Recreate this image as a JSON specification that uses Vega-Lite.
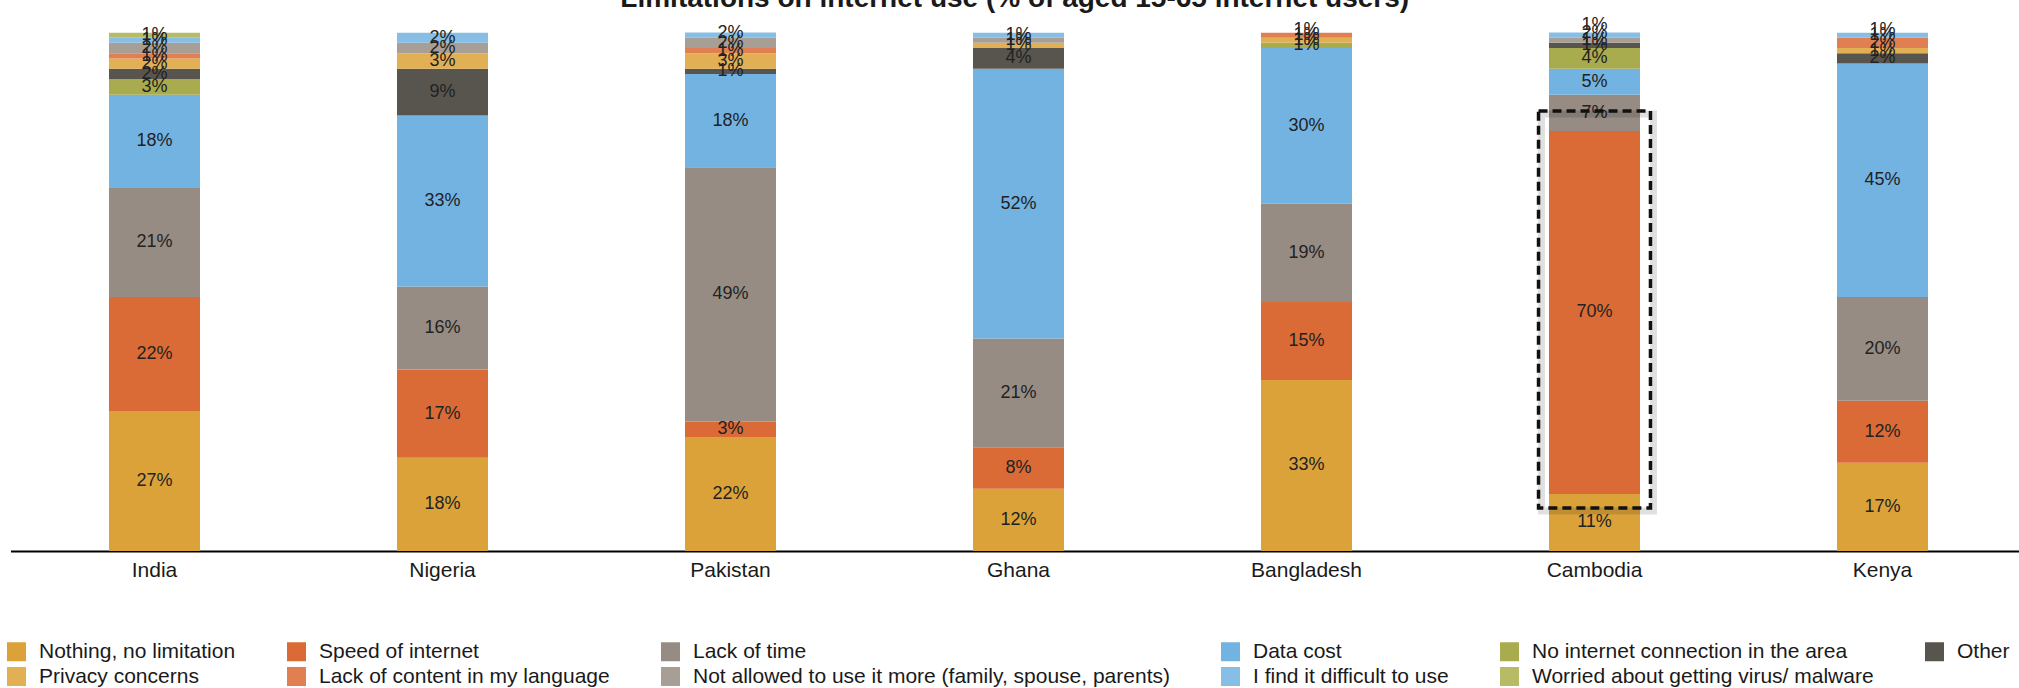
{
  "$schema": "https://vega.github.io/schema/vega-lite/v6.json",
  "autosize": {"type": "none"},
  "width": 2008.5,
  "height": 518.5,
  "padding": {"left": 10.5, "top": 32.5, "right": 0, "bottom": 137},
  "title": {
    "text": "Limitations on internet use (% of aged 15-65 internet users)",
    "font": "Liberation Sans",
    "fontSize": 28,
    "fontWeight": "bold",
    "color": "#1a1a1a",
    "anchor": "middle",
    "frame": "group",
    "baseline": "alphabetic",
    "offset": -19
  },
  "config": {
    "font": "Liberation Sans",
    "view": {"stroke": null}
  },
  "datasets": {
    "limitations": [
      {"limitation": "Nothing, no limitation", "rank": 1},
      {"limitation": "Speed of internet", "rank": 2},
      {"limitation": "Lack of time", "rank": 3},
      {"limitation": "Data cost", "rank": 4},
      {"limitation": "No internet connection in the area", "rank": 5},
      {"limitation": "Other", "rank": 6},
      {"limitation": "Privacy concerns", "rank": 7},
      {"limitation": "Lack of content in my language", "rank": 8},
      {"limitation": "Not allowed to use it more (family, spouse, parents)", "rank": 9},
      {"limitation": "I find it difficult to use", "rank": 10},
      {"limitation": "Worried about getting virus/ malware", "rank": 11}
    ],
    "survey": [
      {"country": "India", "limitation": "Nothing, no limitation", "share": 0.27},
      {"country": "India", "limitation": "Speed of internet", "share": 0.22},
      {"country": "India", "limitation": "Lack of time", "share": 0.21},
      {"country": "India", "limitation": "Data cost", "share": 0.18},
      {"country": "India", "limitation": "No internet connection in the area", "share": 0.03},
      {"country": "India", "limitation": "Other", "share": 0.02},
      {"country": "India", "limitation": "Privacy concerns", "share": 0.02},
      {"country": "India", "limitation": "Lack of content in my language", "share": 0.01},
      {"country": "India", "limitation": "Not allowed to use it more (family, spouse, parents)", "share": 0.02},
      {"country": "India", "limitation": "I find it difficult to use", "share": 0.01},
      {"country": "India", "limitation": "Worried about getting virus/ malware", "share": 0.01},

      {"country": "Nigeria", "limitation": "Nothing, no limitation", "share": 0.18},
      {"country": "Nigeria", "limitation": "Speed of internet", "share": 0.17},
      {"country": "Nigeria", "limitation": "Lack of time", "share": 0.16},
      {"country": "Nigeria", "limitation": "Data cost", "share": 0.33},
      {"country": "Nigeria", "limitation": "Other", "share": 0.09},
      {"country": "Nigeria", "limitation": "Privacy concerns", "share": 0.03},
      {"country": "Nigeria", "limitation": "Not allowed to use it more (family, spouse, parents)", "share": 0.02},
      {"country": "Nigeria", "limitation": "I find it difficult to use", "share": 0.02},

      {"country": "Pakistan", "limitation": "Nothing, no limitation", "share": 0.22},
      {"country": "Pakistan", "limitation": "Speed of internet", "share": 0.03},
      {"country": "Pakistan", "limitation": "Lack of time", "share": 0.49},
      {"country": "Pakistan", "limitation": "Data cost", "share": 0.18},
      {"country": "Pakistan", "limitation": "Other", "share": 0.01},
      {"country": "Pakistan", "limitation": "Privacy concerns", "share": 0.03},
      {"country": "Pakistan", "limitation": "Lack of content in my language", "share": 0.01},
      {"country": "Pakistan", "limitation": "Not allowed to use it more (family, spouse, parents)", "share": 0.02},
      {"country": "Pakistan", "limitation": "I find it difficult to use", "share": 0.02},

      {"country": "Ghana", "limitation": "Nothing, no limitation", "share": 0.12},
      {"country": "Ghana", "limitation": "Speed of internet", "share": 0.08},
      {"country": "Ghana", "limitation": "Lack of time", "share": 0.21},
      {"country": "Ghana", "limitation": "Data cost", "share": 0.52},
      {"country": "Ghana", "limitation": "Other", "share": 0.04},
      {"country": "Ghana", "limitation": "Privacy concerns", "share": 0.01},
      {"country": "Ghana", "limitation": "Not allowed to use it more (family, spouse, parents)", "share": 0.01},
      {"country": "Ghana", "limitation": "I find it difficult to use", "share": 0.01},

      {"country": "Bangladesh", "limitation": "Nothing, no limitation", "share": 0.33},
      {"country": "Bangladesh", "limitation": "Speed of internet", "share": 0.15},
      {"country": "Bangladesh", "limitation": "Lack of time", "share": 0.19},
      {"country": "Bangladesh", "limitation": "Data cost", "share": 0.30},
      {"country": "Bangladesh", "limitation": "No internet connection in the area", "share": 0.01},
      {"country": "Bangladesh", "limitation": "Privacy concerns", "share": 0.01},
      {"country": "Bangladesh", "limitation": "Lack of content in my language", "share": 0.01},
      {"country": "Bangladesh", "limitation": "I find it difficult to use", "share": 0.01},

      {"country": "Cambodia", "limitation": "Nothing, no limitation", "share": 0.11},
      {"country": "Cambodia", "limitation": "Speed of internet", "share": 0.70},
      {"country": "Cambodia", "limitation": "Lack of time", "share": 0.07},
      {"country": "Cambodia", "limitation": "Data cost", "share": 0.05},
      {"country": "Cambodia", "limitation": "No internet connection in the area", "share": 0.04},
      {"country": "Cambodia", "limitation": "Other", "share": 0.01},
      {"country": "Cambodia", "limitation": "Not allowed to use it more (family, spouse, parents)", "share": 0.01},
      {"country": "Cambodia", "limitation": "I find it difficult to use", "share": 0.02},
      {"country": "Cambodia", "limitation": "Worried about getting virus/ malware", "share": 0.01},

      {"country": "Kenya", "limitation": "Nothing, no limitation", "share": 0.17},
      {"country": "Kenya", "limitation": "Speed of internet", "share": 0.12},
      {"country": "Kenya", "limitation": "Lack of time", "share": 0.20},
      {"country": "Kenya", "limitation": "Data cost", "share": 0.45},
      {"country": "Kenya", "limitation": "Other", "share": 0.02},
      {"country": "Kenya", "limitation": "Privacy concerns", "share": 0.01},
      {"country": "Kenya", "limitation": "Lack of content in my language", "share": 0.02},
      {"country": "Kenya", "limitation": "I find it difficult to use", "share": 0.01},
      {"country": "Kenya", "limitation": "Worried about getting virus/ malware", "share": 0.01}
    ]
  },
  "data": {"name": "survey"},
  "transform": [
    {"lookup": "limitation", "from": {"data": {"name": "limitations"}, "key": "limitation", "fields": ["rank"]}}
  ],
  "encoding": {
    "x": {
      "field": "country",
      "type": "nominal",
      "sort": ["India", "Nigeria", "Pakistan", "Ghana", "Bangladesh", "Cambodia", "Kenya"],
      "scale": {"type": "band", "range": [0, 2016], "paddingInner": 0.684, "paddingOuter": 0.342},
      "axis": {
        "title": null,
        "labelAngle": 0,
        "ticks": false,
        "grid": false,
        "domainColor": "#000000",
        "domainWidth": 2,
        "labelFont": "Liberation Sans",
        "labelFontSize": 21,
        "labelColor": "#1a1a1a",
        "labelPadding": 8
      }
    },
    "y": {
      "field": "share",
      "type": "quantitative",
      "stack": "zero",
      "scale": {"domain": [0, 1], "nice": false},
      "axis": null
    },
    "order": {"field": "rank", "type": "quantitative", "sort": "ascending"}
  },
  "layer": [
    {
      "mark": {"type": "bar", "clip": true},
      "encoding": {
        "color": {
          "field": "limitation",
          "type": "nominal",
          "sort": [
            "Nothing, no limitation", "Speed of internet", "Lack of time", "Data cost",
            "No internet connection in the area", "Other", "Privacy concerns",
            "Lack of content in my language", "Not allowed to use it more (family, spouse, parents)",
            "I find it difficult to use", "Worried about getting virus/ malware"
          ],
          "scale": {
            "domain": [
              "Nothing, no limitation", "Speed of internet", "Lack of time", "Data cost",
              "No internet connection in the area", "Other", "Privacy concerns",
              "Lack of content in my language", "Not allowed to use it more (family, spouse, parents)",
              "I find it difficult to use", "Worried about getting virus/ malware"
            ],
            "range": ["#dba23a", "#db6b36", "#968c83", "#73b3e1", "#a9ac4e", "#58554f", "#e2b054", "#e07f52", "#a79f96", "#86bee6", "#b8bb66"]
          },
          "legend": {
            "title": null,
            "orient": "none",
            "direction": "horizontal",
            "legendX": -4.5,
            "legendY": 608.5,
            "columns": 6,
            "columnPadding": 50,
            "rowPadding": 3,
            "padding": 0,
            "symbolType": "square",
            "symbolSize": 361,
            "symbolStrokeWidth": 0,
            "symbolOpacity": 1,
            "labelFont": "Liberation Sans",
            "labelFontSize": 21,
            "labelColor": "#1a1a1a",
            "labelOffset": 12,
            "labelLimit": 700
          }
        }
      }
    },
    {
      "mark": {"type": "text", "font": "Liberation Sans", "fontSize": 18, "baseline": "middle", "color": "#222222"},
      "encoding": {
        "y": {"field": "share", "type": "quantitative", "stack": "zero", "bandPosition": 0.5},
        "detail": {"field": "limitation", "type": "nominal"},
        "text": {"field": "share", "type": "quantitative", "format": ".0%"}
      }
    },
    {
      "transform": [
        {"stack": "share", "groupby": ["country"], "sort": [{"field": "rank", "order": "ascending"}], "as": ["low", "high"]},
        {"filter": "datum.country === 'Cambodia' && datum.limitation === 'Speed of internet'"}
      ],
      "layer": [
        {
          "mark": {"type": "bar", "filled": false, "stroke": "#000000", "strokeOpacity": 0.12, "strokeWidth": 7, "width": {"band": 1.23}, "xOffset": 3, "yOffset": -17, "y2Offset": 17},
          "encoding": {
            "y": {"field": "high", "type": "quantitative", "stack": null},
            "y2": {"field": "low"}
          }
        },
        {
          "mark": {"type": "bar", "filled": false, "stroke": "#111111", "strokeWidth": 3.5, "strokeDash": [9, 5], "width": {"band": 1.23}, "yOffset": -20, "y2Offset": 14},
          "encoding": {
            "y": {"field": "high", "type": "quantitative", "stack": null},
            "y2": {"field": "low"}
          }
        }
      ]
    }
  ]
}
